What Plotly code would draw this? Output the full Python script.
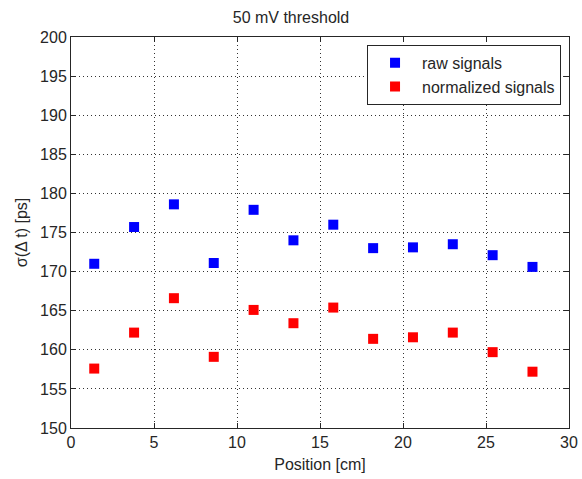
import plotly.graph_objects as go

position = [1.4, 3.8, 6.2, 8.6, 11.0, 13.4, 15.8, 18.2, 20.6, 23.0, 25.4, 27.8]
raw_signals = [171.0, 175.7, 178.6, 171.1, 177.9, 174.0, 176.0, 173.0, 173.1, 173.5, 172.1, 170.6]
normalized_signals = [157.6, 162.2, 166.6, 159.1, 165.1, 163.4, 165.4, 161.4, 161.6, 162.2, 159.7, 157.2]
x_ticks = [0, 5, 10, 15, 20, 25, 30]
y_ticks = [150, 155, 160, 165, 170, 175, 180, 185, 190, 195, 200]

font = "Liberation Sans, Arial, sans-serif"
txt = "#262626"

fig = go.Figure()
fig.add_trace(go.Scatter(x=position, y=raw_signals, mode="markers", name="raw signals",
                         marker=dict(symbol="square", size=10, color="#0000ff", line=dict(width=0))))
fig.add_trace(go.Scatter(x=position, y=normalized_signals, mode="markers", name="normalized signals",
                         marker=dict(symbol="square", size=10, color="#ff0000", line=dict(width=0))))

axis_common = dict(showline=True, linecolor=txt, linewidth=1, mirror="ticks",
                   ticks="inside", ticklen=5, tickcolor=txt, automargin=False,
                   showgrid=True, gridcolor="#333333", griddash="1px,3px", gridwidth=1,
                   zeroline=False, tickfont=dict(family=font, size=16, color=txt))

fig.update_xaxes(range=[0, 30], tickvals=x_ticks, **axis_common,
                 title=dict(text="Position [cm]", font=dict(family=font, size=16, color=txt), standoff=8))
fig.update_yaxes(range=[150, 200], tickvals=y_ticks, **axis_common,
                 title=dict(text="σ(Δ t) [ps]", font=dict(family=font, size=16, color=txt), standoff=8))

fig.update_layout(
    width=582, height=479,
    margin=dict(l=71, r=13, t=37, b=51),
    paper_bgcolor="white", plot_bgcolor="white",
    title=dict(text="50 mV threshold", x=0.5, xanchor="center", y=1 - 17/479, yanchor="middle",
               font=dict(family=font, size=16, color=txt)),
    legend=dict(x=0.984, xanchor="right", y=0.98, yanchor="top",
                bgcolor="white", bordercolor=txt, borderwidth=1, tracegroupgap=0,
                font=dict(family=font, size=16, color=txt), itemwidth=44),
    showlegend=True,
)

fig.write_html("out.html")
